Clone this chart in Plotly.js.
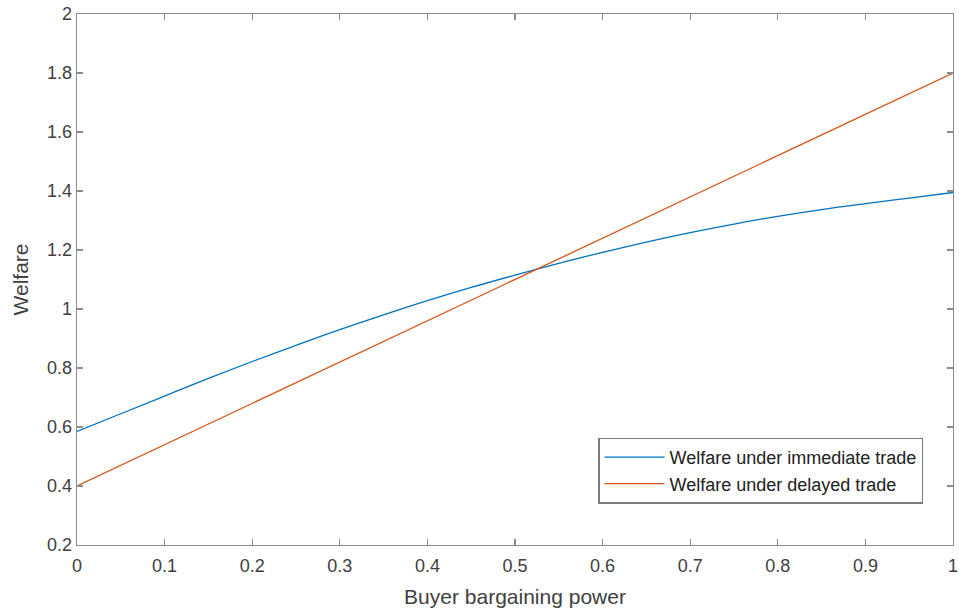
<!DOCTYPE html>
<html>
<head>
<meta charset="utf-8">
<script src="https://cdn.plot.ly/plotly-3.0.1.min.js"></script>
<style>html,body{margin:0;padding:0;background:#fff;}#chart{width:959px;height:612px;}</style>
</head>
<body>
<div id="chart"></div>
<script>
const bargainingPower = [0, 0.05, 0.1, 0.15, 0.2, 0.25, 0.3, 0.35, 0.4, 0.45, 0.5, 0.55, 0.6, 0.65, 0.7, 0.75, 0.8, 0.85, 0.9, 0.95, 1.0];
const welfareImmediate = [0.585, 0.645, 0.705, 0.765, 0.822, 0.877, 0.930, 0.980, 1.028, 1.073, 1.115, 1.155, 1.192, 1.227, 1.259, 1.288, 1.314, 1.337, 1.357, 1.376, 1.395];
const welfareDelayed = [0.40, 0.47, 0.54, 0.61, 0.68, 0.75, 0.82, 0.89, 0.96, 1.03, 1.10, 1.17, 1.24, 1.31, 1.38, 1.45, 1.52, 1.59, 1.66, 1.73, 1.80];
const seriesNames = ["Welfare under immediate trade", "Welfare under delayed trade"];
const xTicks = [0, 0.1, 0.2, 0.3, 0.4, 0.5, 0.6, 0.7, 0.8, 0.9, 1];
const xTickLabels = ["0", "0.1", "0.2", "0.3", "0.4", "0.5", "0.6", "0.7", "0.8", "0.9", "1"];
const yTicks = [0.2, 0.4, 0.6, 0.8, 1, 1.2, 1.4, 1.6, 1.8, 2];
const yTickLabels = ["0.2", "0.4", "0.6", "0.8", "1", "1.2", "1.4", "1.6", "1.8", "2"];

const font = "Liberation Sans, Arial, Helvetica, sans-serif";
const axisCol = "#8c8c8c";
const textCol = "#404040";

const traces = [
  {x: bargainingPower, y: welfareImmediate, name: seriesNames[0], mode: "lines", line: {color: "#0072BD", width: 1.3, shape: "spline"}},
  {x: bargainingPower, y: welfareDelayed, name: seriesNames[1], mode: "lines", line: {color: "#D95319", width: 1.3}}
];

const axisCommon = {
  showgrid: false, zeroline: false, showline: true, linecolor: axisCol, linewidth: 1.3,
  mirror: "ticks", ticks: "inside", ticklen: 6, tickcolor: axisCol, tickwidth: 1.3,
  tickfont: {family: font, size: 18, color: textCol}
};

const layout = {
  width: 959, height: 612,
  margin: {l: 77, r: 6, t: 14, b: 67},
  paper_bgcolor: "#fff", plot_bgcolor: "#fff",
  showlegend: true,
  legend: {
    x: 0.966, xanchor: "right", y: 0.140, yanchor: "middle",
    bordercolor: "#7a7a7a", borderwidth: 1.3, bgcolor: "#fff",
    font: {family: font, size: 18, color: "#222"},
    itemwidth: 60, tracegroupgap: 0
  },
  xaxis: Object.assign({}, axisCommon, {
    range: [0, 1], tickvals: xTicks, ticktext: xTickLabels, ticklabelstandoff: 4,
    title: {text: "Buyer bargaining power", font: {family: font, size: 21, color: textCol}, standoff: 14}
  }),
  yaxis: Object.assign({}, axisCommon, {
    range: [0.2, 2], tickvals: yTicks, ticktext: yTickLabels,
    title: {text: "Welfare", font: {family: font, size: 21, color: textCol}, standoff: 12}
  })
};

Plotly.newPlot("chart", traces, layout, {displayModeBar: false, staticPlot: true});
</script>
</body>
</html>
